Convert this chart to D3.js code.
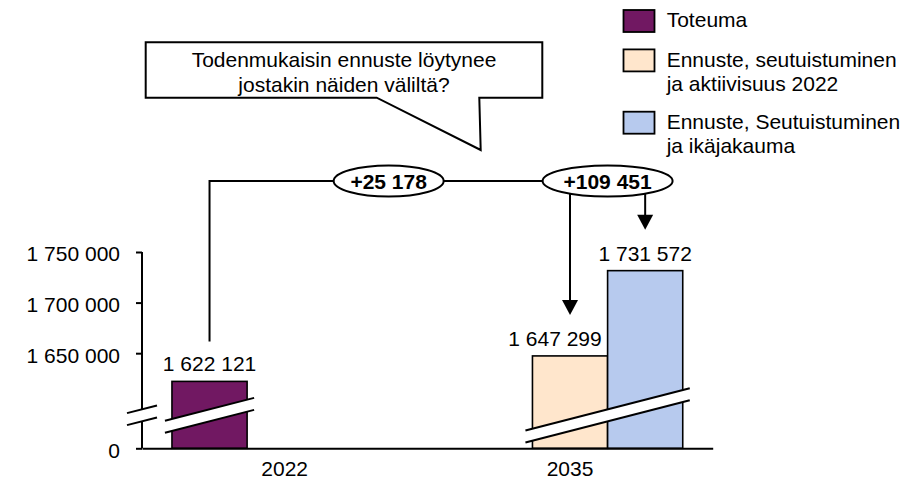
<!DOCTYPE html>
<html>
<head>
<meta charset="utf-8">
<script src="https://cdn.jsdelivr.net/npm/d3@7"></script>
<style>
  html, body { margin: 0; padding: 0; background: #fff; }
  svg { display: block; font-family: "Liberation Sans", Arial, sans-serif; }
</style>
</head>
<body>
<svg id="chart" width="917" height="479"></svg>
<script>
// --- data -------------------------------------------------------------
const categories = ["2022", "2035"];
const seriesNames = [
  "Toteuma",
  "Ennuste, seutuistuminen ja aktiivisuus 2022",
  "Ennuste, Seutuistuminen ja ikäjakauma"
];
const legendLines = [
  ["Toteuma"],
  ["Ennuste, seutuistuminen", "ja aktiivisuus 2022"],
  ["Ennuste, Seutuistuminen", "ja ikäjakauma"]
];
const values2022 = [1622121, null, null];
const values2035 = [null, 1647299, 1731572];
const yTickValues = [0, 1650000, 1700000, 1750000];
const calloutLines = ["Todenmukaisin ennuste löytynee", "jostakin näiden väliltä?"];
const seriesColors = ["#711862", "#FFE6CC", "#B7CAEE"];

// --- layout -----------------------------------------------------------
const svg = d3.select("#chart");
const plot = { left: 142, right: 712.7, top: 252, bottom: 448.3 };
const FONT = 21;
const yBreakValue = 1556000;   // values below this are collapsed into the axis break

const fmt = d3.formatLocale({ decimal: ",", thousands: " ", grouping: [3], currency: ["", " €"] }).format(",d");

const x0 = d3.scaleBand().domain(categories)
  .range([plot.left, plot.right]).paddingInner(0.21).paddingOuter(0.105);
const x1 = d3.scaleBand().domain(d3.range(seriesNames.length))
  .range([0, x0.bandwidth()]);
// broken axis: 0 sits at the baseline, the visible part starts at yBreakValue
const y = d3.scaleLinear().domain([0, yBreakValue, 1750000])
  .range([plot.bottom, plot.bottom, plot.top]);

const rows = [
  { cat: "2022", vals: values2022 },
  { cat: "2035", vals: values2035 }
];
const bars = [];
rows.forEach(r => r.vals.forEach((v, i) => {
  if (v != null) bars.push({ cat: r.cat, s: i, v });
}));
const barX = d => x0(d.cat) + x1(d.s);
const barCx = d => barX(d) + x1.bandwidth() / 2;

// --- axes -------------------------------------------------------------
const yAxis = svg.append("g")
  .attr("transform", `translate(${plot.left},0)`)
  .call(d3.axisLeft(y).tickValues(yTickValues).tickSize(6).tickSizeOuter(0)
    .tickPadding(16).tickFormat(fmt));
yAxis.select(".domain").attr("d", `M0,${plot.bottom}V${plot.top}`);
yAxis.selectAll("line, path").attr("stroke", "#000").attr("stroke-width", 2);
yAxis.selectAll("text").attr("font-size", FONT).attr("dy", "0.42em")
  .attr("fill", "#000").attr("font-family", "Liberation Sans, Arial, sans-serif");

// --- bars -------------------------------------------------------------
svg.append("g").selectAll("rect").data(bars).join("rect")
  .attr("x", barX)
  .attr("y", d => y(d.v))
  .attr("width", x1.bandwidth())
  .attr("height", d => plot.bottom - y(d.v))
  .attr("fill", d => seriesColors[d.s])
  .attr("stroke", "#000").attr("stroke-width", 1.6);

const xAxis = svg.append("g")
  .attr("transform", `translate(0,${plot.bottom})`)
  .call(d3.axisBottom(x0).tickSize(0).tickSizeOuter(0).tickPadding(13));
xAxis.select(".domain").attr("stroke", "#000").attr("stroke-width", 2);
xAxis.selectAll("text").attr("font-size", FONT).attr("fill", "#000")
  .attr("font-family", "Liberation Sans, Arial, sans-serif");

// --- break marks ------------------------------------------------------
const breakY = plot.bottom - 33, breakGap = 12, breakSlope = 0.257;
function drawBreak(xa, xb) {
  const cx = (xa + xb) / 2;
  const yAt = (xx, off) => breakY + off - breakSlope * (xx - cx);
  const g = svg.append("g");
  g.append("polygon")
    .attr("points", [[xa, yAt(xa, -breakGap / 2)], [xb, yAt(xb, -breakGap / 2)],
                     [xb, yAt(xb, breakGap / 2)], [xa, yAt(xa, breakGap / 2)]].join(" "))
    .attr("fill", "#fff");
  [-breakGap / 2, breakGap / 2].forEach(off => g.append("line")
    .attr("x1", xa).attr("y1", yAt(xa, off)).attr("x2", xb).attr("y2", yAt(xb, off))
    .attr("stroke", "#000").attr("stroke-width", 2));
}
drawBreak(plot.left - 15, plot.left + 15);
const bar2022 = bars.filter(d => d.cat === "2022");
const bar2035 = bars.filter(d => d.cat === "2035");
drawBreak(d3.min(bar2022, barX) - 7, d3.max(bar2022, barX) + x1.bandwidth() + 7);
drawBreak(d3.min(bar2035, barX) - 7, d3.max(bar2035, barX) + x1.bandwidth() + 7);

// --- value labels -----------------------------------------------------
const labelShift = [0, -15, 0];
svg.append("g").selectAll("text").data(bars).join("text")
  .attr("x", d => barCx(d) + labelShift[d.s])
  .attr("y", d => y(d.v) - 10)
  .attr("text-anchor", "middle").attr("font-size", FONT).attr("fill", "#000")
  .text(d => fmt(d.v));

// --- connector with difference bubbles --------------------------------
const base = bar2022[0];
const lineY = 181;
const bubble2X = barX(bar2035[bar2035.length - 1]);
const startX = barCx(base);
const bubble1X = startX + 0.45 * (bubble2X - startX);
const conn = svg.append("g").attr("stroke", "#000").attr("stroke-width", 2).attr("fill", "none");
conn.append("path").attr("d", `M${startX},${y(base.v) - 40}V${lineY}H${bubble2X}`);

// arrows from the second bubble down to each forecast bar
bar2035.forEach(d => {
  const tip = y(d.v) - 41;
  const cx = barCx(d);
  conn.append("line").attr("x1", cx).attr("x2", cx).attr("y1", lineY).attr("y2", tip - 14);
  svg.append("polygon")
    .attr("points", [[cx - 8, tip - 15], [cx + 8, tip - 15], [cx, tip]].join(" "))
    .attr("fill", "#000");
});

const bubbles = [
  { x: bubble1X, rx: 55, text: "+" + fmt(bar2035[0].v - base.v) },
  { x: bubble2X, rx: 65, text: "+" + fmt(bar2035[1].v - base.v) }
];
const bg = svg.append("g").selectAll("g").data(bubbles).join("g");
bg.append("ellipse")
  .attr("cx", d => d.x).attr("cy", lineY).attr("rx", d => d.rx).attr("ry", 15.5)
  .attr("fill", "#fff").attr("stroke", "#000").attr("stroke-width", 2);
bg.append("text")
  .attr("x", d => d.x).attr("y", lineY + 7.5)
  .attr("text-anchor", "middle").attr("font-size", FONT).attr("font-weight", "bold")
  .text(d => d.text);

// --- callout ----------------------------------------------------------
const box = { l: 145.7, t: 42.3, r: 542.3, b: 97.7 };
const tailTip = [480.7, 150];
svg.append("polygon")
  .attr("points", [[box.l, box.t], [box.r, box.t], [box.r, box.b], [479.3, box.b],
                   tailTip, [376.7, box.b], [box.l, box.b]].join(" "))
  .attr("fill", "#fff").attr("stroke", "#000").attr("stroke-width", 2)
  .attr("stroke-linejoin", "miter");
svg.append("g").selectAll("text").data(calloutLines).join("text")
  .attr("x", (box.l + box.r) / 2)
  .attr("y", (d, i) => 66.7 + i * 25)
  .attr("text-anchor", "middle").attr("font-size", FONT).attr("fill", "#000")
  .text(d => d);

// --- legend -----------------------------------------------------------
const legendBase = [27.3, 66.7, 129];
const lg = svg.append("g").selectAll("g").data(legendLines).join("g");
lg.append("rect")
  .attr("x", 623.5).attr("y", (d, i) => legendBase[i] - 17.3)
  .attr("width", 31).attr("height", 22)
  .attr("fill", (d, i) => seriesColors[i])
  .attr("stroke", "#000").attr("stroke-width", 1.8);
lg.each(function (lines, i) {
  d3.select(this).selectAll("text").data(lines).join("text")
    .attr("x", 666.7).attr("y", (d, j) => legendBase[i] + j * 24)
    .attr("font-size", FONT).attr("fill", "#000")
    .text(d => d);
});
</script>
</body>
</html>
